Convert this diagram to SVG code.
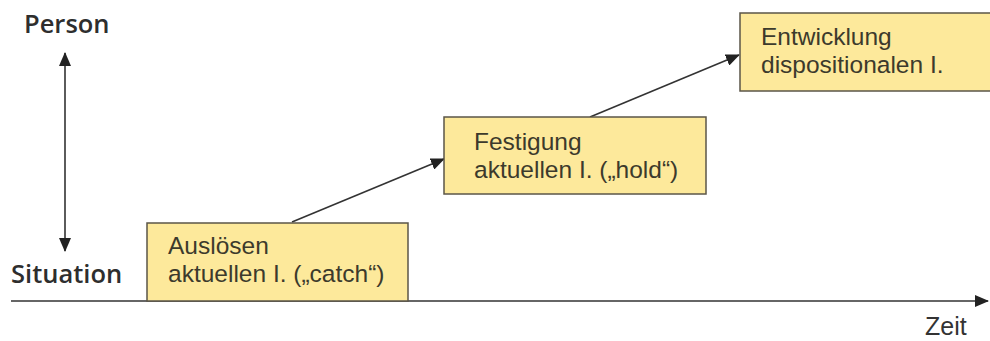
<svg xmlns="http://www.w3.org/2000/svg" width="990" height="341" viewBox="0 0 990 341">
<defs>
<style>
.box{fill:#fde99b;stroke:#5b5648;stroke-width:1.5}
.t{font-family:"Liberation Sans",Arial,sans-serif;font-size:24.5px;fill:#3c3a2c}
.ax{font-family:"Open Sans","Noto Sans","Liberation Sans",sans-serif;font-size:25.5px;fill:#2e2e2e;font-weight:600}
.z{font-family:"Liberation Sans",Arial,sans-serif;font-size:25px;fill:#333}
.ln{stroke:#333;stroke-width:1.6;fill:none}
</style>
<marker id="ah" viewBox="0 0 14 12" refX="13" refY="6" markerWidth="14" markerHeight="12" markerUnits="userSpaceOnUse" orient="auto-start-reverse">
<path d="M0,0 L14,6 L0,12 Z" fill="#222"/>
</marker>
</defs>
<g id="connectors">
<line class="ln" x1="11" y1="301" x2="988" y2="301" marker-end="url(#ah)"/>
<line class="ln" x1="65" y1="53" x2="65" y2="251" marker-start="url(#ah)" marker-end="url(#ah)"/>
<line class="ln" x1="292" y1="222" x2="444" y2="159" marker-end="url(#ah)"/>
<line class="ln" x1="590" y1="117" x2="739" y2="55" marker-end="url(#ah)"/>
</g>
<g id="axis-labels">
<text class="ax" x="24" y="33">Person</text>
<text class="ax" x="11" y="283">Situation</text>
<text class="z" x="925" y="335">Zeit</text>
</g>
<g id="node-catch">
<rect class="box" x="147" y="223" width="261" height="78"/>
<text class="t" x="168" y="254">Auslösen</text>
<text class="t" x="168" y="282">aktuellen I. („catch“)</text>
</g>
<g id="node-hold">
<rect class="box" x="444" y="117" width="262" height="77"/>
<text class="t" x="474" y="150">Festigung</text>
<text class="t" x="474" y="178">aktuellen I. („hold“)</text>
</g>
<g id="node-disp">
<rect class="box" x="740" y="13" width="252" height="78"/>
<text class="t" x="761" y="45">Entwicklung</text>
<text class="t" x="761" y="73">dispositionalen I.</text>
</g>
</svg>
